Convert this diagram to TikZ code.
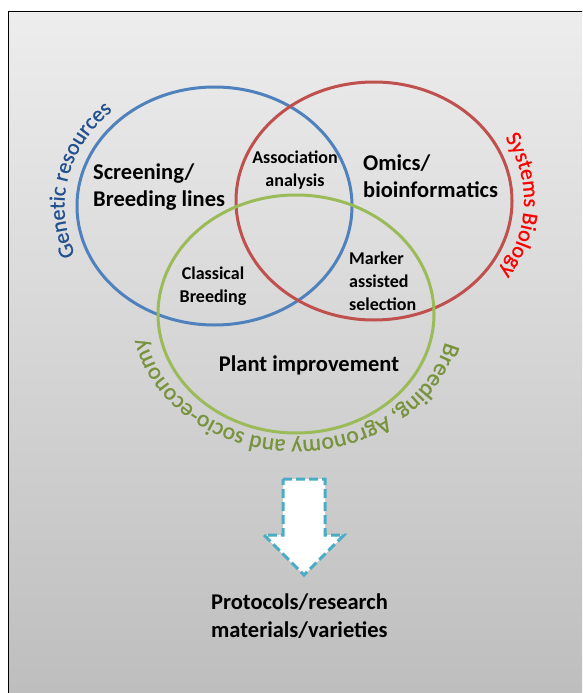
\documentclass[tikz,border=0pt]{standalone}
\usepackage{fontspec}
\setmainfont{Carlito}
\newfontfamily\arcfamily[FakeBold=0.8]{Carlito}
\usetikzlibrary{decorations.text}

\definecolor{bgtop}{HTML}{EDEDED}
\definecolor{bgbot}{HTML}{BDBDBD}
\definecolor{cblue}{HTML}{4F81BD}
\definecolor{cred}{HTML}{C0504D}
\definecolor{cgreen}{HTML}{9BBB59}
\definecolor{tblue}{HTML}{23508F}
\definecolor{tred}{HTML}{FF0000}
\definecolor{tgreen}{HTML}{77933C}
\definecolor{arrowc}{HTML}{4BACC6}

\newcommand{\bigfont}{\fontsize{22.5}{27.5}\selectfont\bfseries}
\newcommand{\smallfont}{\fontsize{18}{23}\selectfont\bfseries}
\newcommand{\arcfont}{\arcfamily\fontsize{22}{26}\selectfont}
\newcommand{\arcfontwide}{\arcfamily\fontsize{23.5}{28}\selectfont}

\begin{document}
\begin{tikzpicture}[x=1pt,y=-1pt,
  ring/.style={line width=3pt},
  biglabel/.style={font=\bigfont, inner sep=0pt, text=black},
  smalllabel/.style={font=\smallfont, inner sep=0pt, text=black},
  arctext/.style={decorate, decoration={text along path, text align=center}}]
\useasboundingbox (0,0) rectangle (582,693);
\clip (0,0) rectangle (582,693);
\fill[white] (0,0) rectangle (582,693);

% panel with vertical grey gradient and its frame
\shade[top color=bgtop, bottom color=bgbot] (8.5,11.5) rectangle (600,705);
\draw[line width=1.5pt, black] (8.5,705) -- (8.5,11.5) -- (600,11.5);

% the three domains
\draw[ring, cblue] (214.5,206) ellipse [x radius=137.5, y radius=119];
\draw[ring, cred] (374,201) ellipse [x radius=138, y radius=119];
\draw[ring, cgreen] (296,314) ellipse [x radius=138, y radius=119];

% curved captions around the domains
\path[arctext, decoration={text={|\arcfont\color{tblue}|Genetic resources}}]
  (214.5,206) ++(156:150 and 130)
  arc[start angle=156, end angle=229, x radius=150, y radius=130];
\path[arctext, decoration={text={|\arcfont\color{tred}|Systems Biology}}]
  (374,201) ++(-33:150 and 130)
  arc[start angle=-33, end angle=37, x radius=150, y radius=130];
\path[arctext, decoration={text={|\arcfontwide\color{tgreen}|Breeding, Agronomy and socio-economy}}]
  (296,314) ++(10:153 and 126)
  arc[start angle=10, end angle=172, x radius=153, y radius=126];

% labels inside the domains
\node[biglabel, anchor=west, align=left] (screen) at (93,187) {Screening/\\Breeding lines};
\node[biglabel, anchor=west, align=left] (omics) at (363,176) {Omics/\\bioinformatics};
\node[smalllabel, align=center] (assoc) at (295,170) {Association\\analysis};
\node[smalllabel, align=center] (classic) at (213,286) {Classical\\Breeding};
\node[smalllabel, anchor=west, align=left] (mas) at (349,281) {Marker\\assisted\\selection};
\node[biglabel] (plant) at (309,365) {Plant improvement};

% outcome arrow and result
\draw[line width=3pt, arrowc, fill=white, dash pattern=on 9pt off 4pt, line join=miter]
  (283,479) -- (325,479) -- (325,535) -- (344,535) -- (304,575)
  -- (264,535) -- (283,535) -- cycle;
\node[biglabel, anchor=west, align=left] (result) at (211,616) {Protocols/research\\materials/varieties};
\end{tikzpicture}
\end{document}
